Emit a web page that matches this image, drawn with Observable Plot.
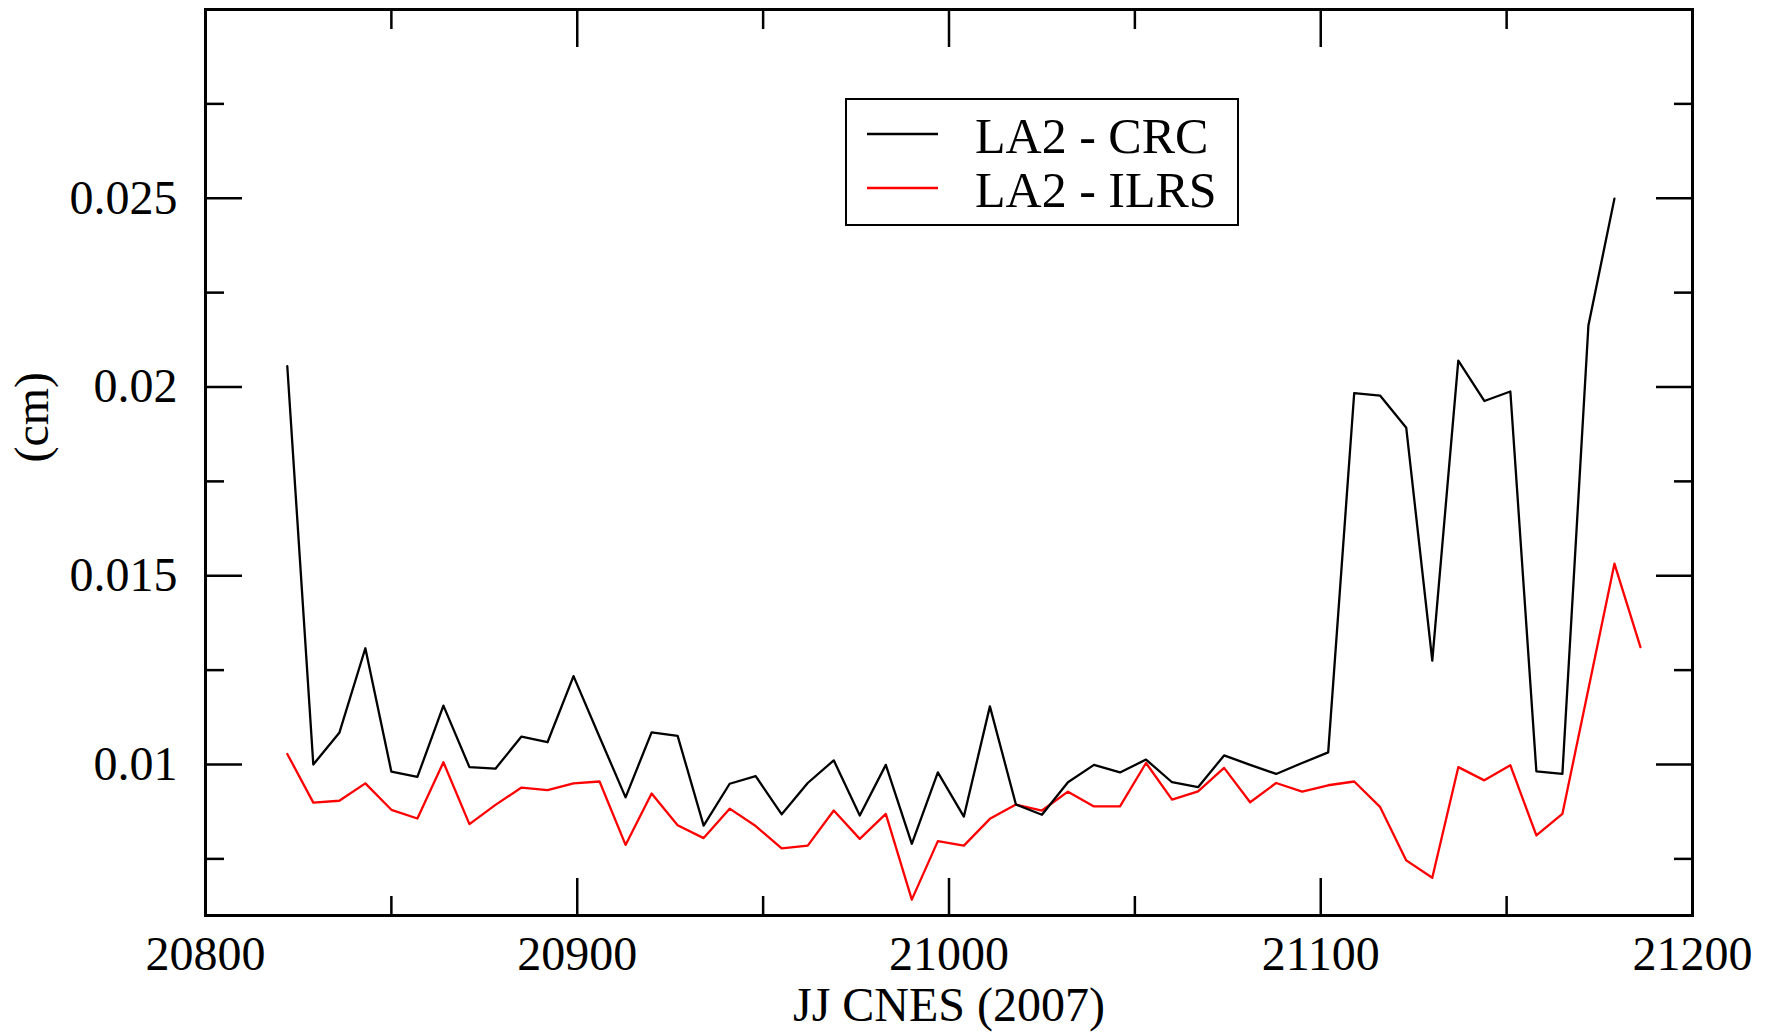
<!DOCTYPE html>
<html>
<head>
<meta charset="utf-8">
<script src="https://cdn.jsdelivr.net/npm/d3@7"></script>
<script src="https://cdn.jsdelivr.net/npm/@observablehq/plot@0.6"></script>
<style>
html, body { margin: 0; padding: 0; background: #fff; }
#chart svg { display: block; }
</style>
</head>
<body>
<div id="chart"></div>
<script>
// ---- Data ----
const crcDays = [20822, 20829, 20836, 20843, 20850, 20857, 20864, 20871, 20878, 20885,
  20892, 20899, 20906, 20913, 20920, 20927, 20934, 20941, 20948, 20955,
  20962, 20969, 20976, 20983, 20990, 20997, 21004, 21011, 21018, 21025,
  21032, 21039, 21046, 21053, 21060, 21067, 21074, 21081, 21088, 21095,
  21102, 21109, 21116, 21123, 21130, 21137, 21144, 21151, 21158, 21165,
  21172, 21179];
const crcValues = [0.02055, 0.01000, 0.01084, 0.01308, 0.00981, 0.00967, 0.01156, 0.00993, 0.00989, 0.01074,
  0.01059, 0.01234, 0.01073, 0.00913, 0.01085, 0.01076, 0.00838, 0.00949, 0.00969, 0.00868,
  0.00951, 0.01011, 0.00865, 0.00999, 0.00790, 0.00979, 0.00862, 0.01154, 0.00894, 0.00867,
  0.00953, 0.00999, 0.00979, 0.01013, 0.00953, 0.00940, 0.01024, 0.00999, 0.00975, 0.01004,
  0.01032, 0.01984, 0.01977, 0.01892, 0.01275, 0.02070, 0.01963, 0.01988, 0.00982, 0.00975,
  0.02163, 0.02499];

const ilrsDays = [20822, 20829, 20836, 20843, 20850, 20857, 20864, 20871, 20878, 20885,
  20892, 20899, 20906, 20913, 20920, 20927, 20934, 20941, 20948, 20955,
  20962, 20969, 20976, 20983, 20990, 20997, 21004, 21011, 21018, 21025,
  21032, 21039, 21046, 21053, 21060, 21067, 21074, 21081, 21088, 21095,
  21102, 21109, 21116, 21123, 21130, 21137, 21144, 21151, 21158, 21165,
  21172, 21179, 21186];
const ilrsValues = [0.01028, 0.00899, 0.00904, 0.00950, 0.00880, 0.00857, 0.01006, 0.00842, 0.00893, 0.00939,
  0.00932, 0.00950, 0.00955, 0.00787, 0.00923, 0.00839, 0.00805, 0.00883, 0.00837, 0.00778,
  0.00785, 0.00878, 0.00803, 0.00869, 0.00642, 0.00797, 0.00785, 0.00856, 0.00894, 0.00878,
  0.00928, 0.00889, 0.00889, 0.01004, 0.00907, 0.00929, 0.00991, 0.00900, 0.00951, 0.00928,
  0.00945, 0.00955, 0.00887, 0.00746, 0.00700, 0.00993, 0.00958, 0.00998, 0.00812, 0.00869,
  0.01200, 0.01532, 0.01311];

const seriesNames = ["LA2 - CRC", "LA2 - ILRS"];
const seriesColors = ["#000000", "#ff0000"];

const xMajorTicks = [20800, 20900, 21000, 21100, 21200];
const xMinorTicks = [20850, 20950, 21050, 21150];
const yMajorTicks = [0.01, 0.015, 0.02, 0.025];
const yMinorTicks = [0.0075, 0.0125, 0.0175, 0.0225, 0.0275];

const xLabel = "JJ CNES (2007)";
const yLabel = "(cm)";

// ---- Build tables ----
const crc = crcDays.map((d, i) => ({day: d, value: crcValues[i], series: seriesNames[0]}));
const ilrs = ilrsDays.map((d, i) => ({day: d, value: ilrsValues[i], series: seriesNames[1]}));

const FONT = "'Liberation Serif', 'Times New Roman', serif";
const FS = 48;
const MAJ = 37, MIN = 19, TW = 2.5;

const fmtY = d => String(+d.toFixed(4));

const chart = Plot.plot({
  width: 1777,
  height: 1035,
  marginLeft: 205,
  marginRight: 85,
  marginTop: 9,
  marginBottom: 120,
  style: {fontFamily: FONT, background: "white", color: "black"},
  x: {domain: [20800, 21200]},
  y: {domain: [0.006, 0.030]},
  marks: [
    // data lines
    Plot.line(ilrs, {x: "day", y: "value", stroke: seriesColors[1], strokeWidth: 2.3}),
    Plot.line(crc, {x: "day", y: "value", stroke: seriesColors[0], strokeWidth: 2.3}),
    // bottom axis (ticks pointing inward) with labels
    Plot.axisX(xMajorTicks, {anchor: "bottom", tickSize: -MAJ, tickPadding: MAJ + 20, tickFormat: d => String(d), fontSize: FS, strokeWidth: TW, label: null}),
    Plot.axisX(xMinorTicks, {anchor: "bottom", tickSize: -MIN, tickFormat: () => "", strokeWidth: TW, label: null}),
    // top mirrored ticks
    Plot.axisX(xMajorTicks, {anchor: "top", tickSize: -MAJ, tickFormat: () => "", strokeWidth: TW, label: null}),
    Plot.axisX(xMinorTicks, {anchor: "top", tickSize: -MIN, tickFormat: () => "", strokeWidth: TW, label: null}),
    // left axis with labels
    Plot.axisY(yMajorTicks, {anchor: "left", tickSize: -MAJ, tickPadding: MAJ + 28, tickFormat: fmtY, fontSize: FS, strokeWidth: TW, label: null}),
    Plot.axisY(yMinorTicks, {anchor: "left", tickSize: -MIN, tickFormat: () => "", strokeWidth: TW, label: null}),
    // right mirrored ticks
    Plot.axisY(yMajorTicks, {anchor: "right", tickSize: -MAJ, tickFormat: () => "", strokeWidth: TW, label: null}),
    Plot.axisY(yMinorTicks, {anchor: "right", tickSize: -MIN, tickFormat: () => "", strokeWidth: TW, label: null}),
    // axis titles
    Plot.text([xLabel], {text: d => d, frameAnchor: "bottom", dy: 105, lineAnchor: "bottom", fontSize: FS, fill: "black"}),
    Plot.text([yLabel], {text: d => d, frameAnchor: "left", dx: -173, rotate: -90, lineAnchor: "middle", fontSize: FS, fill: "black"}),
    Plot.frame({stroke: "black", strokeWidth: 3})
  ]
});

document.getElementById("chart").appendChild(chart);

// ---- Legend box (inside the plot area, top centre-right) ----
const svg = d3.select(chart);
const lg = svg.append("g")
  .attr("font-family", FONT)
  .attr("font-size", 50)
  .attr("text-anchor", "start");
lg.append("rect")
  .attr("x", 846).attr("y", 99).attr("width", 392).attr("height", 126)
  .attr("fill", "white").attr("stroke", "black").attr("stroke-width", 2);
seriesNames.forEach((name, i) => {
  const cy = 134 + i * 54;
  lg.append("line")
    .attr("x1", 867).attr("x2", 938).attr("y1", cy).attr("y2", cy)
    .attr("stroke", seriesColors[i]).attr("stroke-width", 2.3);
  lg.append("text")
    .attr("x", 975).attr("y", cy + 18.5)
    .attr("text-anchor", "start")
    .attr("fill", "black")
    .text(name);
});
</script>
</body>
</html>
